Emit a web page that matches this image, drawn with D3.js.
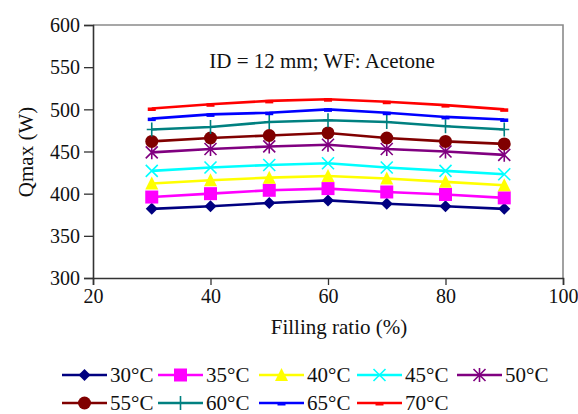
<!DOCTYPE html>
<html>
<head>
<meta charset="utf-8">
<script src="https://cdn.jsdelivr.net/npm/d3@7"></script>
<style>
  body { margin: 0; background: #fff; }
  svg text { font-family: "Liberation Serif", "Times New Roman", Times, Tinos, "Noto Serif", "DejaVu Serif", serif; fill: #111; }
</style>
</head>
<body>
<svg id="chart" width="578" height="414"></svg>
<script>
// Filling ratio (%) on the x axis
const fillingRatio = [30, 40, 50, 60, 70, 80, 90];

// Qmax (W) for each heater temperature
const q30 = [382, 385, 389, 392, 388, 385, 382];
const q35 = [396, 400, 404, 406, 402, 399, 395];
const q40 = [412, 416, 419, 421, 418, 414, 410];
const q45 = [427, 431, 434, 436, 431, 427, 423];
const q50 = [449, 453, 456, 458, 453, 450, 446];
const q55 = [462, 466, 469, 472, 466, 462, 459];
const q60 = [476, 479, 485, 487, 485, 480, 476];
const q65 = [489, 494, 496, 500, 496, 491, 488];
const q70 = [501, 506, 510, 512, 509, 505, 500];

const seriesNames = ["30°C", "35°C", "40°C", "45°C", "50°C", "55°C", "60°C", "65°C", "70°C"];
const seriesValues = [q30, q35, q40, q45, q50, q55, q60, q65, q70];
const seriesColors = ["#000080", "#ff00ff", "#ffff00", "#00ffff", "#800080", "#800000", "#008080", "#0000ff", "#ff0000"];
const seriesMarkers = ["diamond", "square", "triangle", "cross", "star", "circle", "plus", "dash", "dash"];

const xTicks = [20, 40, 60, 80, 100];
const yTicks = [300, 350, 400, 450, 500, 550, 600];

const svg = d3.select("#chart");
const plot = { left: 93, right: 563, top: 25, bottom: 278 };

const x = d3.scaleLinear().domain([20, 100]).range([plot.left, plot.right]);
const y = d3.scaleLinear().domain([300, 600]).range([plot.bottom, plot.top]);

// frame (top and right edges)
svg.append("path")
  .attr("d", `M${plot.left},${plot.top}H${plot.right}V${plot.bottom}`)
  .attr("fill", "none").attr("stroke", "#8a8a8a").attr("stroke-width", 1.6);

// axes
const yAxis = svg.append("g")
  .attr("transform", `translate(${plot.left},0)`)
  .call(d3.axisLeft(y).tickValues(yTicks).tickSize(9).tickPadding(4));
const xAxis = svg.append("g")
  .attr("transform", `translate(0,${plot.bottom})`)
  .call(d3.axisBottom(x).tickValues(xTicks).tickSize(7).tickPadding(4));
[yAxis, xAxis].forEach(g => {
  g.attr("font-family", null).attr("font-size", null);
  g.select(".domain").attr("stroke", "#333").attr("stroke-width", 1.6);
  g.selectAll(".tick line").attr("stroke", "#333").attr("stroke-width", 1.3);
  g.selectAll(".tick text").style("font-size", "20px").attr("fill", "#111");
});
yAxis.selectAll(".tick text").attr("dy", "0.34em");
xAxis.selectAll(".tick text").attr("dy", "0.72em");

// axis titles and annotation
function label(xp, yp, txt, rot) {
  const t = svg.append("text")
    .attr("text-anchor", "middle")
    .style("font-size", "21px").text(txt);
  if (rot) t.attr("transform", `translate(${xp},${yp}) rotate(-90)`);
  else t.attr("x", xp).attr("y", yp);
  return t;
}
label(33, 152, "Qmax (W)", true);
label(339, 334, "Filling ratio (%)");
label(322, 68, "ID = 12 mm; WF: Acetone");

// marker drawing
function drawMarker(g, type, color, cx, cy) {
  switch (type) {
    case "diamond":
      g.append("path").attr("d", `M${cx},${cy - 6}L${cx + 6},${cy}L${cx},${cy + 6}L${cx - 6},${cy}Z`)
        .attr("fill", color);
      break;
    case "square":
      g.append("rect").attr("x", cx - 6.5).attr("y", cy - 6.5).attr("width", 13).attr("height", 13)
        .attr("fill", color);
      break;
    case "triangle":
      g.append("path").attr("d", `M${cx},${cy - 7}L${cx + 6.5},${cy + 6}L${cx - 6.5},${cy + 6}Z`)
        .attr("fill", color);
      break;
    case "cross":
      g.append("path").attr("d", `M${cx - 6},${cy - 6}L${cx + 6},${cy + 6}M${cx + 6},${cy - 6}L${cx - 6},${cy + 6}`)
        .attr("stroke", color).attr("stroke-width", 1.6).attr("fill", "none");
      break;
    case "star":
      g.append("path").attr("d", `M${cx - 6},${cy - 6}L${cx + 6},${cy + 6}M${cx + 6},${cy - 6}L${cx - 6},${cy + 6}M${cx},${cy - 7}V${cy + 7}`)
        .attr("stroke", color).attr("stroke-width", 1.6).attr("fill", "none");
      break;
    case "circle":
      g.append("circle").attr("cx", cx).attr("cy", cy).attr("r", 6.5).attr("fill", color);
      break;
    case "plus":
      g.append("path").attr("d", `M${cx},${cy - 7}V${cy + 7}M${cx - 5},${cy}H${cx + 5}`)
        .attr("stroke", color).attr("stroke-width", 1.6).attr("fill", "none");
      break;
    case "dash":
      g.append("rect").attr("x", cx - 4).attr("y", cy - 1).attr("width", 8).attr("height", 3.5)
        .attr("fill", color);
      break;
  }
}

// series lines and markers
const line = d3.line().x((d, i) => x(fillingRatio[i])).y(d => y(d));
seriesValues.forEach((vals, s) => {
  const g = svg.append("g");
  g.append("path").datum(vals).attr("d", line)
    .attr("fill", "none").attr("stroke", seriesColors[s]).attr("stroke-width", 2.6);
  vals.forEach((v, i) => drawMarker(g, seriesMarkers[s], seriesColors[s], x(fillingRatio[i]), y(v)));
});

// legend: two rows, five columns
const legendCols = 5;
const colX = [62, 158, 259, 357, 457];
const rowY = [375, 403];
seriesNames.forEach((name, s) => {
  const cx0 = colX[s % legendCols];
  const cy = rowY[Math.floor(s / legendCols)];
  const g = svg.append("g");
  g.append("line").attr("x1", cx0).attr("x2", cx0 + 45).attr("y1", cy).attr("y2", cy)
    .attr("stroke", seriesColors[s]).attr("stroke-width", 2.6);
  drawMarker(g, seriesMarkers[s], seriesColors[s], cx0 + 22.5, cy);
  g.append("text").attr("x", cx0 + 48).attr("y", cy + 7)
    .style("font-size", "21px").text(name);
});
</script>
</body>
</html>
